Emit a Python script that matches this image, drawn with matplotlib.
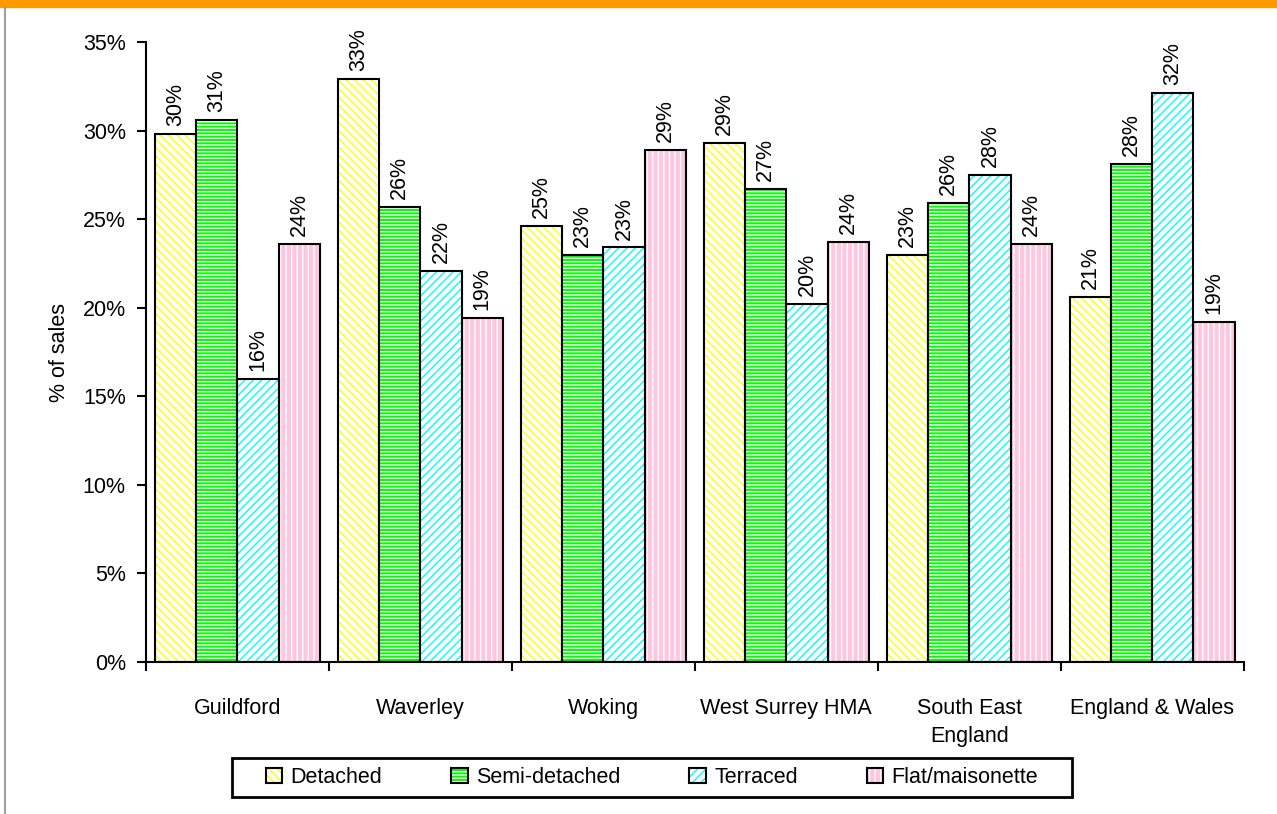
import numpy as np
import matplotlib
matplotlib.use('Agg')
import matplotlib.pyplot as plt
from matplotlib.patches import Patch, Rectangle
from matplotlib.lines import Line2D
from matplotlib.legend_handler import HandlerTuple

plt.rcParams['font.family'] = ['Liberation Sans', 'DejaVu Sans']
plt.rcParams['hatch.linewidth'] = 1.0

# data (% of sales)
areas = ["Guildford", "Waverley", "Woking", "West Surrey HMA", "South East\nEngland", "England & Wales"]
detached = [29.8, 32.9, 24.6, 29.3, 23.0, 20.6]
semi_detached = [30.6, 25.7, 23.0, 26.7, 25.9, 28.1]
terraced = [16.0, 22.1, 23.4, 20.2, 27.5, 32.1]
flat = [23.6, 19.4, 28.9, 23.7, 23.6, 19.2]
series_names = ["Detached", "Semi-detached", "Terraced", "Flat/maisonette"]

# face colour, hatch colour, hatch pattern for each series
styles = [
    ("white", "#FFFF00", "\\\\\\\\"),
    ("#00FF00", "white", "-----"),
    ("white", "#00FFFF", "////"),
    ("#FFC6E0", "white", "|||"),
]
fs = 15.5

fig = plt.figure(figsize=(12.77, 8.14), dpi=100)
ax = fig.add_axes([0.1143, 0.1867, 0.8597, 0.7617])

x = np.arange(len(areas))
width = 0.225
handles = []
for i, (vals, (fc, hc, hatch)) in enumerate(zip([detached, semi_detached, terraced, flat], styles)):
    pos = x + (i - 1.5) * width
    ax.bar(pos, vals, width, color=fc, edgecolor=hc, hatch=hatch, linewidth=0, zorder=2)
    ax.bar(pos, vals, width, fill=False, edgecolor="black", linewidth=1.5, zorder=3)
    for p, v in zip(pos, vals):
        ax.text(p, v + 0.45, f"{v:.0f}%", rotation=90, ha="center", va="bottom", fontsize=fs)
    handles.append((Patch(facecolor=fc, edgecolor=hc, hatch=hatch, linewidth=0),
                    Patch(fill=False, edgecolor="black", linewidth=1.5)))

ax.set_xlim(-0.5, len(areas) - 0.5)
ax.set_ylim(0, 35)
ax.set_yticks(np.arange(0, 36, 5))
ax.set_yticklabels([f"{t}%" for t in range(0, 36, 5)], fontsize=fs)
ax.set_ylabel("% of sales", fontsize=fs, labelpad=9)

ax.set_xticks(x)
ax.set_xticklabels(areas, fontsize=fs, linespacing=1.4)
ax.tick_params(axis="x", length=0, pad=26)
ax.set_xticks(np.arange(-0.5, len(areas)), minor=True)
ax.tick_params(axis="x", which="minor", length=6.5, width=1.5, direction="out")
ax.tick_params(axis="y", length=6.5, width=1.5, direction="out", pad=8)
for s in ["top", "right"]:
    ax.spines[s].set_visible(False)
for s in ["left", "bottom"]:
    ax.spines[s].set_linewidth(1.5)

# legend without its own frame; the box is drawn separately so its padding can be wider
leg = fig.legend(handles, series_names, handler_map={tuple: HandlerTuple(ndivide=1)},
                 loc="center", bbox_to_anchor=(652 / 1277, 1 - 777.5 / 814), ncol=4, fontsize=fs,
                 frameon=False, handlelength=0.75, handleheight=0.75,
                 handletextpad=0.4, columnspacing=3.2, borderpad=0)
fig.add_artist(Rectangle((232 / 1277, 1 - 797 / 814), 840 / 1277, 39 / 814,
                         transform=fig.transFigure, fill=False, edgecolor="black", linewidth=2))

# orange band along the top and grey rule on the left
fig.add_artist(Rectangle((0, 1 - 7 / 814), 1, 7 / 814, transform=fig.transFigure,
                         color="#FF9900", zorder=0))
fig.add_artist(Line2D([4.5 / 1277, 4.5 / 1277], [0, 1 - 7 / 814], transform=fig.transFigure,
                      color="#A0A0A0", linewidth=1.5))

fig.savefig("out.png", dpi=100)
